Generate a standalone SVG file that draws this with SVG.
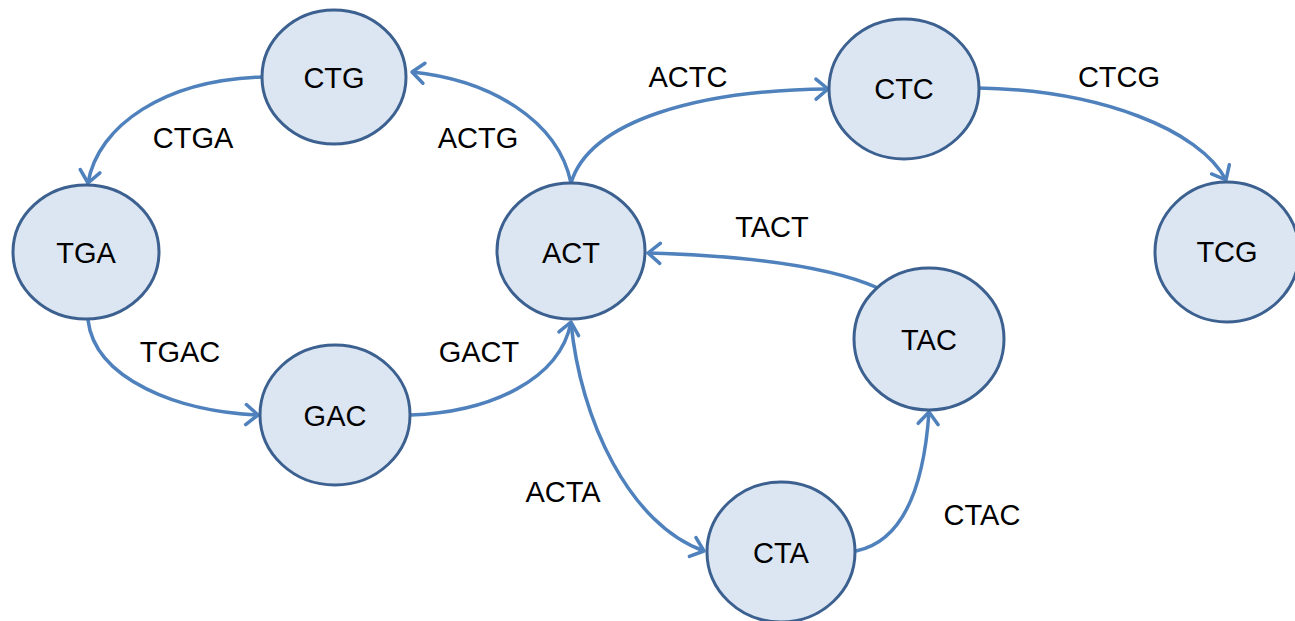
<svg xmlns="http://www.w3.org/2000/svg" width="1295" height="621" viewBox="0 0 1295 621">
<style>
.node ellipse{fill:#dce6f2;stroke:#3c6190;stroke-width:3}
.node text,.lbl{font-family:"Liberation Sans",Arial,sans-serif;font-size:29px;fill:#000;text-anchor:middle}
.edge{fill:none;stroke:#4f81bd;stroke-width:3.5;marker-end:url(#arr)}
</style>
<defs>
<marker id="arr" markerUnits="userSpaceOnUse" markerWidth="30" markerHeight="30" viewBox="-16 -15 20 30" refX="0" refY="0" orient="auto">
<path d="M-12,-10 L0,0 L-12,10" fill="none" stroke="#4f81bd" stroke-width="3.5" stroke-linecap="round" stroke-linejoin="round"/>
</marker>
</defs>
<rect width="1295" height="621" fill="#fff"/>
<g id="connectors">
<path class="edge" d="M262,77 C165,80 98,125 88,183"/>
<path class="edge" d="M571,183 C558,120 490,80 412,72"/>
<path class="edge" d="M571,183 C590,120 700,90 828,89"/>
<path class="edge" d="M978,88 C1100,90 1200,130 1226,180"/>
<path class="edge" d="M88,320 C95,380 180,412 258,415"/>
<path class="edge" d="M411,415 C490,412 560,380 571,322"/>
<path class="edge" d="M571,322 C580,420 630,525 704,551"/>
<path class="edge" d="M856,551 C910,540 925,470 929,412"/>
<path class="edge" d="M878,288 C820,262 720,255 648,253"/>
</g>
<g id="edge-labels">
<text class="lbl" x="193" y="148">CTGA</text>
<text class="lbl" x="478" y="148">ACTG</text>
<text class="lbl" x="688" y="87">ACTC</text>
<text class="lbl" x="1119" y="87">CTCG</text>
<text class="lbl" x="772" y="237">TACT</text>
<text class="lbl" x="180" y="362">TGAC</text>
<text class="lbl" x="479" y="362">GACT</text>
<text class="lbl" x="563" y="502">ACTA</text>
<text class="lbl" x="982" y="525">CTAC</text>
</g>
<g id="CTG" class="node"><ellipse cx="334" cy="77" rx="72" ry="67"/><text x="334" y="88">CTG</text></g>
<g id="TGA" class="node"><ellipse cx="86" cy="252" rx="73" ry="67"/><text x="86" y="263">TGA</text></g>
<g id="GAC" class="node"><ellipse cx="335" cy="415" rx="75" ry="70"/><text x="335" y="426">GAC</text></g>
<g id="ACT" class="node"><ellipse cx="571" cy="251" rx="74" ry="68"/><text x="571" y="263">ACT</text></g>
<g id="CTC" class="node"><ellipse cx="904" cy="89" rx="75" ry="70"/><text x="904" y="99">CTC</text></g>
<g id="TCG" class="node"><ellipse cx="1227" cy="252" rx="72" ry="70"/><text x="1227" y="262">TCG</text></g>
<g id="TAC" class="node"><ellipse cx="929" cy="339" rx="75" ry="71"/><text x="929" y="350">TAC</text></g>
<g id="CTA" class="node"><ellipse cx="781" cy="552" rx="74" ry="70"/><text x="781" y="563">CTA</text></g>
</svg>
